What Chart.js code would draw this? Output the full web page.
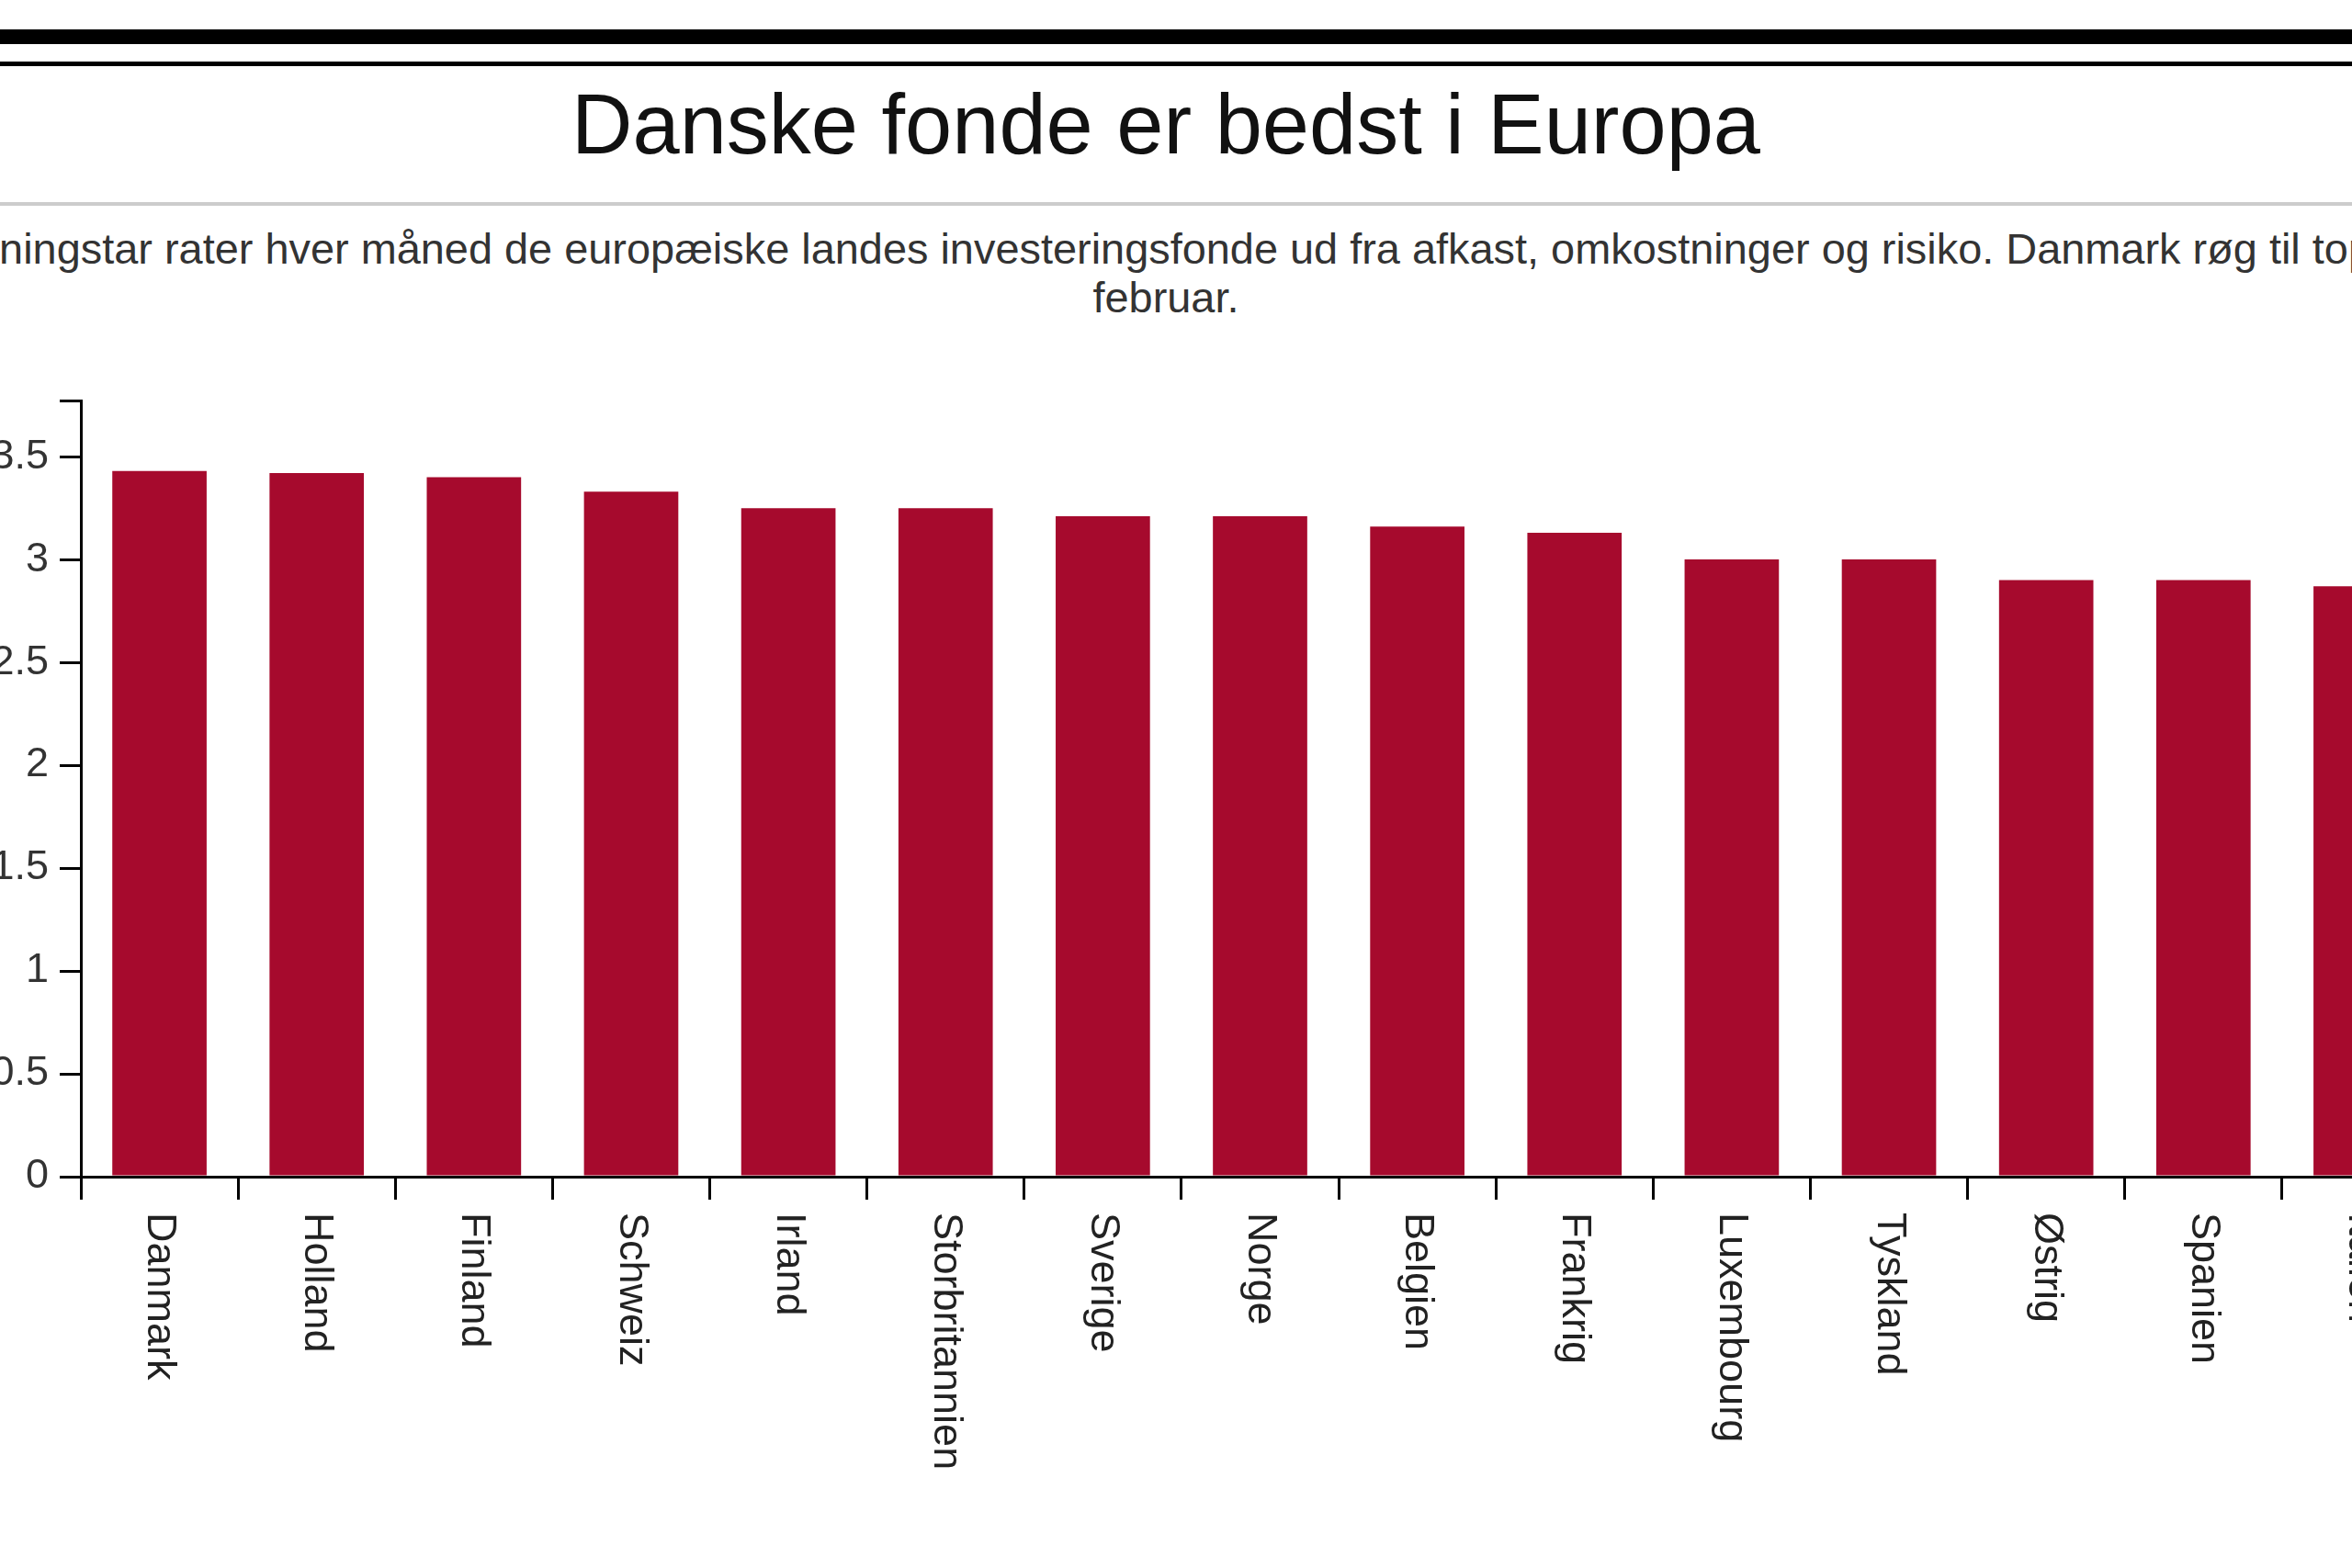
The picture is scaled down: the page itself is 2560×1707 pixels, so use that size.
<!DOCTYPE html>
<html>
<head>
<meta charset="utf-8">
<script src="https://cdn.jsdelivr.net/npm/chart.js@4.4.0/dist/chart.umd.min.js"></script>
<style>
  html, body { margin: 0; padding: 0; background: #fff; }
  body { width: 2560px; height: 1707px; overflow: hidden; position: relative; font-family: "Liberation Sans", Arial, sans-serif; }
  .rule { position: absolute; left: 0; width: 2560px; }
  .thick { top: 32px; height: 16px; background: #000; }
  .thin { top: 67px; height: 5px; background: #000; }
  .grey { top: 220px; height: 4px; background: #cccccc; }
  h1 { position: absolute; top: 89px; left: -500px; width: 3538px; margin: 0; text-align: center;
       font-weight: normal; font-size: 92px; line-height: 92px; color: #111; }
  .sub { position: absolute; top: 245px; left: -500px; width: 3538px; margin: 0; text-align: center;
         white-space: nowrap; font-size: 46.9px; line-height: 53px; color: #333; }
  .sub .first { position: relative; left: 32px; }
  #chart { position: absolute; left: 0; top: 0; }
</style>
</head>
<body>
<div class="rule thick"></div>
<div class="rule thin"></div>
<h1>Danske fonde er bedst i Europa</h1>
<div class="rule grey"></div>
<p class="sub"><span class="first">Morningstar rater hver måned de europæiske landes investeringsfonde ud fra afkast, omkostninger og risiko. Danmark røg til toppen i</span><br>februar.</p>
<canvas id="chart" width="2720" height="1707"></canvas>
<script>
const countries = ['Danmark', 'Holland', 'Finland', 'Schweiz', 'Irland', 'Storbritannien', 'Sverige', 'Norge',
  'Belgien', 'Frankrig', 'Luxembourg', 'Tyskland', 'Østrig', 'Spanien', 'Italien'];
const ratings = [3.43, 3.42, 3.40, 3.33, 3.25, 3.25, 3.21, 3.21, 3.16, 3.13, 3.00, 3.00, 2.90, 2.90, 2.87];
const yTickValues = [0, 0.5, 1, 1.5, 2, 2.5, 3, 3.5];
const yMax = 3.773;

const labelFont = { family: '"Liberation Sans", Arial, sans-serif', size: 45 };

// chart.js only rotates x labels counter-clockwise, turn them to read top-down
const flipLabels = {
  id: 'flipLabels',
  beforeDraw(chart) {
    chart.scales.x.getLabelItems().forEach(item => {
      if (item.flipped) return;
      item.options.rotation = Math.PI / 2;
      item.options.textAlign = 'left';
      item.options.translation[0] += item.font.lineHeight;
      item.flipped = true;
    });
  }
};

new Chart(document.getElementById('chart'), {
  type: 'bar',
  data: {
    labels: countries,
    datasets: [{
      data: ratings,
      backgroundColor: '#a60a2d',
      barPercentage: 0.6,
      categoryPercentage: 1
    }]
  },
  options: {
    responsive: false,
    animation: false,
    layout: { padding: { top: 436, bottom: 26, left: 0, right: 65 } },
    plugins: {
      legend: { display: false },
      tooltip: { enabled: false }
    },
    scales: {
      x: {
        afterFit: s => { s.height = 400; },
        grid: { offset: true, drawOnChartArea: false, tickLength: 25, color: '#000', lineWidth: 3 },
        border: { color: '#000', width: 3 },
        ticks: { minRotation: 90, maxRotation: 90, autoSkip: false, padding: 14, color: '#222', font: labelFont }
      },
      y: {
        min: 0,
        max: yMax,
        afterFit: s => { s.width = 88; },
        afterBuildTicks: s => { s.ticks = yTickValues.concat([yMax]).map(v => ({ value: v })); },
        grid: { drawOnChartArea: false, tickLength: 23, color: '#000', lineWidth: 3 },
        border: { color: '#000', width: 3 },
        ticks: {
          padding: 12,
          color: '#333',
          font: labelFont,
          callback: v => yTickValues.includes(v) ? String(v) : ''
        }
      }
    }
  },
  plugins: [flipLabels]
});
</script>
</body>
</html>
